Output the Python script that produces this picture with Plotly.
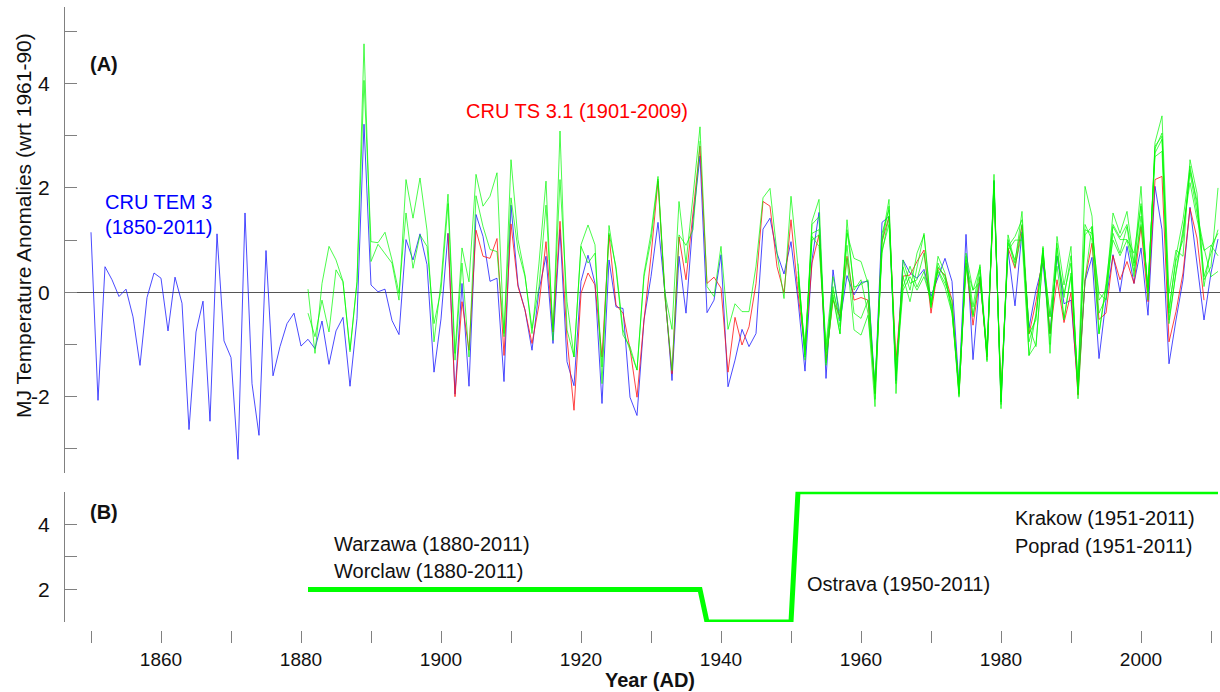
import plotly.graph_objects as go

# ---------------- data ----------------
blue_years = list(range(1850, 2012))
blue_cru_tem3 = [
    1.15, -2.07, 0.49, 0.24, -0.08, 0.06, -0.47, -1.40, -0.10, 0.37,
    0.27, -0.74, 0.29, -0.21, -2.63, -0.76, -0.17, -2.47, 1.12, -0.93,
    -1.25, -3.20, 1.52, -1.75, -2.74, 0.80, -1.60, -1.04, -0.60, -0.40,
    -1.03, -0.90, -1.08, -0.55, -1.38, -0.74, -0.48, -1.80, -0.50, 3.22,
    0.14, 0.01, 0.06, -0.54, -0.81, 1.01, 0.62, 1.12, 0.53, -1.53,
    -0.51, 1.13, -1.95, 0.17, -1.80, 1.49, 1.07, 0.21, 0.27, -1.71,
    1.67, 0.14, -0.34, -1.11, 0.04, 0.69, -0.98, 1.20, -1.33, -1.79,
    0.21, 0.71, 0.17, -2.13, 0.62, -0.28, -0.31, -2.01, -2.36, -0.53,
    0.30, 1.34, -0.02, -1.69, 0.69, -0.40, 1.39, 2.61, -0.39, -0.15,
    0.72, -1.81, -1.30, -0.71, -1.04, -0.79, 1.21, 1.42, 0.75, 0.35,
    0.97, -0.15, -1.51, 0.62, 1.53, -1.65, 0.43, -0.55, 0.32, -0.05,
    0.19, 0.21, -1.85, 1.34, 1.45, -1.69, 0.62, 0.37, 0.27, 0.44,
    -0.08, 0.30, 0.65, 0.21, -1.81, 1.11, -1.29, 0.30, -1.21, 2.13,
    -2.10, 0.81, -0.26, 1.16, -0.68, 0.04, 0.56, -0.79, 0.70, -0.22,
    -0.15, -1.85, 0.21, 0.67, -1.27, -0.15, 0.72, 0.01, 0.88, 0.17,
    0.85, -0.44, 2.03, 1.20, -1.37, -0.53, 0.24, 1.63, 0.49, -0.53,
    0.37, 1.02,
]

red_years = list(range(1901, 2010))
red_cru_ts31 = [
    1.13, -2.00, -0.18, -1.11, 1.19, 0.69, 0.65, 1.03, -1.21,
    1.31, 0.11, -0.34, -0.98, -0.24, 0.97, -0.76, 1.36, -0.88, -2.26,
    -0.02, 0.37, 0.14, -1.24, 1.10, -0.24, -0.40, -1.08, -2.01, -0.53,
    0.69, 2.13, -0.08, -1.56, 1.06, 0.24, 1.52, 2.80, 0.17, 0.29,
    0.08, -1.53, -0.48, -1.01, -0.66, 0.17, 1.74, 1.65, 0.49, -0.01,
    1.39, -0.02, -1.11, 0.56, 1.10, -1.30, -0.15, -0.47, 0.69, -0.15,
    -0.10, -0.15, -1.94, 0.97, 1.45, -1.30, 0.31, 0.33, 0.59, 0.81,
    -0.40, 0.46, 0.33, -0.15, -1.94, 0.56, -0.63, 0.27, -1.24, 1.99,
    -1.94, 0.85, 0.46, 1.28, -0.80, -0.18, 0.72, -0.79, 0.24, -0.58,
    -0.01, -1.97, 0.24, 0.94, -0.52, -0.40, 0.70, 0.24, 0.59, 0.17,
    1.26, -0.18, 2.16, 2.22, -0.95, -0.37, 0.37, 1.61, 1.04, -0.15,
]

station_years_long = list(range(1881, 2012))
warzawa = [
    0.06, -1.17, 0.17, 0.88, 0.62, 0.21, -1.14, 0.20, 4.76,
    0.59, 0.92, 0.75, 0.56, -0.15, 2.16, 1.42, 2.19, 1.19, -0.95,
    0.20, 1.88, -1.17, 0.85, 0.20, 2.26, 1.65, 1.84, 2.29, -0.85,
    2.54, 1.01, 0.33, -0.79, 0.56, 2.13, -0.92, 3.09, -0.72, -1.24,
    0.91, 1.29, 0.91, -1.75, 1.28, 0.43, -0.82, -1.04, -1.49, 0.36,
    1.13, 2.22, -0.02, -0.71, 1.74, 0.56, 1.84, 3.17, 0.11, -0.08,
    0.88, -0.71, -0.22, -0.37, -0.37, 0.50, 1.81, 1.99, 0.75, -0.12,
    1.84, 0.49, -1.24, 1.36, 1.78, -1.40, -0.05, -0.79, 1.39, 0.04,
    0.24, -0.40, -2.19, 1.01, 1.78, -1.94, 0.49, 0.04, 0.75, 1.10,
    -0.28, 0.69, 0.37, -0.34, -2.01, 0.69, -0.28, 0.53, -1.33, 2.26,
    -2.23, 1.10, 0.56, 1.55, -0.79, -0.53, 0.88, -1.17, 1.07, 0.14,
    0.88, -2.04, 0.24, 1.26, -0.15, 0.04, 1.52, 1.13, 1.55, 0.56,
    2.03, -0.15, 2.87, 3.38, -0.02, 0.81, 0.69, 2.54, 1.90, 0.24,
    0.49, 2.00,
]
worclaw = [
    -0.40, -0.85, -0.15, -0.76, 0.43, 0.20, -1.10, 0.20, 4.06,
    0.97, 0.95, 1.15, 0.62, -0.02, 1.52, 0.46, 1.10, 0.88, -0.60,
    0.04, 1.70, -1.30, 0.56, -1.24, 1.85, 1.26, 0.82, 0.78, -0.79,
    1.81, 0.81, 0.30, -0.69, 0.11, 1.67, -0.72, 2.16, -0.18, -1.24,
    0.88, 0.56, 0.75, -1.43, 1.13, 0.49, -0.72, -1.11, -1.49, 0.30,
    1.00, 2.17, -0.10, -1.50, 1.10, 0.90, 1.20, 2.90, None, None,
    None, None, None, None, None, None, None, None, None, None,
    None, 0.40, -1.11, 1.13, 1.20, -1.17, 0.04, -0.50, 1.13, 0.65,
    0.59, 0.17, -1.94, 1.13, 1.58, -1.56, 0.30, -0.18, 0.49, 1.13,
    -0.24, 0.49, 0.30, -0.40, -1.88, 0.75, 0.04, 0.49, -1.17, 2.03,
    -2.01, 0.88, 1.07, 1.39, -1.21, -0.40, 0.81, -0.79, 0.69, -0.02,
    0.56, -1.75, 2.03, 1.46, -0.79, 0.17, 1.26, 1.01, 1.01, 0.75,
    1.65, -0.02, 2.80, 2.99, -0.40, 0.69, 1.39, 2.42, 1.65, 0.11,
    0.88, 1.13,
]

station_years_short = list(range(1951, 2012))
ostrava = [
    0.30, -1.20, 1.07, 0.88, -1.11, 0.11, -0.66, 0.65, -0.72,
    -0.82, -0.44, -1.75, 0.75, 1.46, -1.60, 0.04, 0.30, 0.04, 0.30,
    -0.15, 0.43, 0.17, -0.15, -1.94, 0.49, -0.47, 0.30, -1.20, 2.10,
    -2.10, 1.01, 0.49, 1.13, -0.66, -1.04, 0.75, -0.47, 0.94, -0.53,
    0.37, -1.85, 1.20, 1.13, -0.02, -0.15, 1.13, 0.75, 1.26, 0.30,
    1.46, 0.11, 2.67, 2.93, -0.53, 0.37, 1.13, 2.29, 1.52, 0.85,
    0.30, 0.40,
]
krakow = [
    0.55, -1.30, 1.30, 1.45, -1.35, -0.10, -0.80, 1.20, 0.10,
    0.15, 0.24, -2.05, 0.95, 1.65, -1.75, 0.62, 0.17, 0.24, 0.75,
    -0.30, 0.56, 0.24, -0.28, -1.98, 0.62, -0.44, 0.43, -1.30, 2.15,
    -2.15, 0.95, 0.62, 1.30, -0.95, -0.45, 0.85, -1.00, 0.85, -0.10,
    0.70, -1.95, 1.10, 1.26, -0.40, -0.10, 1.30, 1.05, 1.30, 0.50,
    1.70, 0.00, 2.75, 3.05, -0.30, 0.60, 1.00, 2.35, 1.75, 0.30,
    0.75, 1.20,
]
poprad = [
    0.20, -1.00, 1.00, 1.10, -1.00, 0.30, -0.40, 0.90, -0.40,
    -0.50, -0.15, -1.80, 0.80, 1.30, -1.40, 0.10, 0.50, 0.10, 0.40,
    -0.20, 0.40, 0.10, -0.40, -1.75, 0.50, 0.04, 0.20, -1.05, 1.90,
    -1.90, 0.80, 1.00, 1.00, -1.21, -1.00, 0.70, -0.47, 0.50, -0.50,
    0.30, -1.70, 1.30, 1.00, -0.80, 0.10, 1.00, 0.70, 1.00, 0.40,
    1.30, 0.10, 2.60, 2.70, -0.60, 0.40, 1.20, 2.10, 1.40, 0.80,
    0.90, 0.70,
]

# number of station records available (panel B)
count_years = [1881, 1937, 1938, 1950, 1951, 2011]
station_counts = [2, 2, 1, 1, 5, 5]

x_tick_vals = list(range(1850, 2011, 10))
x_tick_text = ["", "1860", "", "1880", "", "1900", "", "1920", "", "1940",
               "", "1960", "", "1980", "", "2000", ""]
ya_tick_vals = [-3, -2, -1, 0, 1, 2, 3, 4, 5]
ya_tick_text = ["", "-2", "", "0", "", "2", "", "4", ""]
yb_tick_vals = [1, 2, 3, 4, 5]
yb_tick_text = ["", "2", "", "4", ""]

# ---------------- figure ----------------
W, H = 1220, 692
ML, MR, MT, MB = 65, 0, 5, 62
PW = W - ML - MR
PH = H - MT - MB
PX_PER_YEAR = 7.0
x0 = 1850 - (91 - ML) / PX_PER_YEAR
x1 = x0 + PW / PX_PER_YEAR


def px(xp):
    return (xp - ML) / PW


def py(yp):
    return (H - MB - yp) / PH


FONT = "Liberation Sans, Arial, Helvetica, sans-serif"
AX = "#808080"

fig = go.Figure()

fig.add_trace(go.Scatter(x=blue_years, y=blue_cru_tem3, mode="lines",
                         line=dict(color="rgba(30,30,255,0.8)", width=1), xaxis="x", yaxis="y"))
fig.add_trace(go.Scatter(x=red_years, y=red_cru_ts31, mode="lines",
                         line=dict(color="rgba(255,20,20,0.8)", width=1), xaxis="x", yaxis="y"))
for series, yrs in [(warzawa, station_years_long), (worclaw, station_years_long),
                    (ostrava, station_years_short), (krakow, station_years_short),
                    (poprad, station_years_short)]:
    fig.add_trace(go.Scatter(x=yrs, y=series, mode="lines", connectgaps=False,
                             line=dict(color="rgba(0,250,0,0.7)", width=1),
                             xaxis="x", yaxis="y"))

fig.add_trace(go.Scatter(x=count_years, y=station_counts, mode="lines",
                         line=dict(color="#00ff00", width=5),
                         xaxis="x2", yaxis="y2"))

fig.update_layout(
    width=W, height=H,
    margin=dict(l=ML, r=MR, t=MT, b=MB, pad=0),
    paper_bgcolor="white", plot_bgcolor="white",
    showlegend=False,
    font=dict(family=FONT, color="#111111"),
    xaxis=dict(domain=[0, 1], range=[x0, x1], anchor="y", visible=False,
               showgrid=False, zeroline=False),
    xaxis2=dict(domain=[0, 1], range=[x0, x1], anchor="free", position=0,
                matches="x", showgrid=False, zeroline=False, showline=False,
                ticks="outside", ticklen=12, tickwidth=1, tickcolor=AX,
                tickmode="array", tickvals=x_tick_vals, ticktext=x_tick_text,
                tickfont=dict(size=19, family=FONT, color="#111111")),
    yaxis=dict(domain=[py(473), py(7)], range=[(292.3 - 473) / 52.2, (292.3 - 7) / 52.2],
               anchor="x", showgrid=False, zeroline=True, zerolinecolor="#555555",
               zerolinewidth=1, showline=True, linecolor=AX, linewidth=1,
               ticks="inside", ticklen=12, tickwidth=1, tickcolor=AX,
               tickmode="array", tickvals=ya_tick_vals, ticktext=ya_tick_text,
               ticklabelstandoff=10,
               tickfont=dict(size=21, family=FONT, color="#111111")),
    yaxis2=dict(domain=[py(622), py(491.7)], range=[1, 5], anchor="x2",
                showgrid=False, zeroline=False, showline=True, linecolor=AX,
                linewidth=1, ticks="inside", ticklen=12, tickwidth=1, tickcolor=AX,
                tickmode="array", tickvals=yb_tick_vals, ticktext=yb_tick_text,
                ticklabelstandoff=10,
                tickfont=dict(size=21, family=FONT, color="#111111")),
)

annotations = [
    dict(text="<b>(A)</b>", x=px(88), y=py(64), size=20, color="#111111"),
    dict(text="CRU TEM 3", x=px(103), y=py(202), size=20, color="#0000ff"),
    dict(text="(1850-2011)", x=px(103), y=py(227), size=20, color="#0000ff"),
    dict(text="CRU TS 3.1 (1901-2009)", x=px(464), y=py(111), size=20, color="#ff0000"),
    dict(text="<b>(B)</b>", x=px(88), y=py(512), size=20, color="#111111"),
    dict(text="Warzawa (1880-2011)", x=px(332), y=py(544), size=20, color="#111111"),
    dict(text="Worclaw (1880-2011)", x=px(332), y=py(571), size=20, color="#111111"),
    dict(text="Krakow (1951-2011)", x=px(1013), y=py(518), size=20, color="#111111"),
    dict(text="Poprad (1951-2011)", x=px(1013), y=py(546), size=20, color="#111111"),
    dict(text="Ostrava (1950-2011)", x=px(805), y=py(584), size=20, color="#111111"),
]
for a in annotations:
    fig.add_annotation(text=a["text"], x=a["x"], y=a["y"], xref="paper", yref="paper",
                       xanchor="left", yanchor="middle", showarrow=False,
                       font=dict(size=a["size"], color=a["color"], family=FONT))

fig.add_annotation(text="<b>Year (AD)</b>", x=px(650), y=py(680), xref="paper", yref="paper",
                   xanchor="center", yanchor="middle", showarrow=False,
                   font=dict(size=20, color="#111111", family=FONT))
fig.add_annotation(text="MJ Temperature Anomalies (wrt 1961-90)", x=px(23), y=py(226),
                   xref="paper", yref="paper", xanchor="center", yanchor="middle",
                   textangle=-90, showarrow=False,
                   font=dict(size=21, color="#111111", family=FONT))

fig.write_html("out.html")
